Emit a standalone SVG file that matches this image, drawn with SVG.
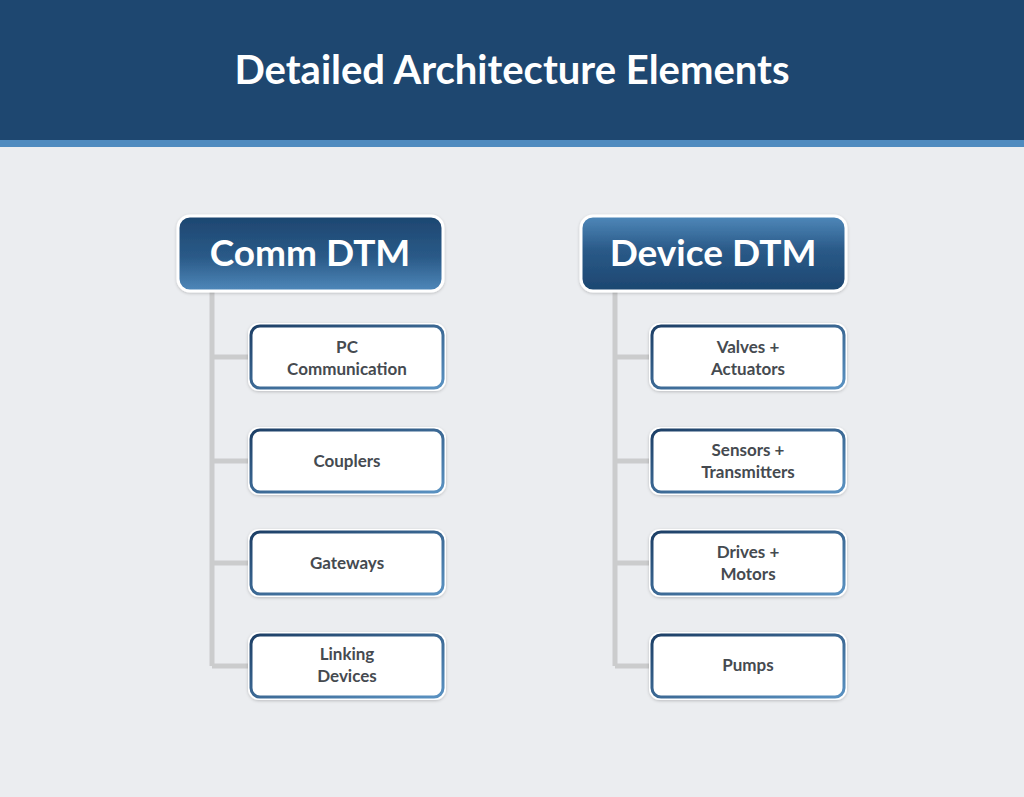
<svg xmlns="http://www.w3.org/2000/svg" width="1024" height="797" viewBox="0 0 1024 797">
<defs>
<linearGradient id="gDown" x1="0" y1="0" x2="0" y2="1"><stop offset="0" stop-color="#1d4670"/><stop offset="0.55" stop-color="#2a5a88"/><stop offset="1" stop-color="#4f88ba"/></linearGradient>
<linearGradient id="gUp" x1="0" y1="0" x2="0" y2="1"><stop offset="0" stop-color="#4f88ba"/><stop offset="0.45" stop-color="#2a5a88"/><stop offset="1" stop-color="#1d4670"/></linearGradient>
<linearGradient id="gBorder" x1="0" y1="0" x2="1" y2="1"><stop offset="0" stop-color="#1d3f66"/><stop offset="1" stop-color="#5a92c2"/></linearGradient>
<filter id="sh" x="-10%" y="-10%" width="120%" height="130%"><feDropShadow dx="0" dy="1" stdDeviation="1.5" flood-color="#000" flood-opacity="0.2"/></filter>
</defs>
<style>
.head{stroke:#fff;stroke-width:3;filter:url(#sh)}
.ht{font-family:Lato,"Open Sans",sans-serif;font-weight:bold;font-size:37px;fill:#fff;text-anchor:middle}
.child{fill:#fff;stroke:url(#gBorder);stroke-width:3}
.outer{fill:#fff;filter:url(#sh)}
.ct{font-family:Lato,"Open Sans",sans-serif;font-weight:bold;font-size:17px;fill:#454a50;text-anchor:middle}
.line{stroke:#cbcccd;stroke-width:5;fill:none}
</style>
<rect width="1024" height="797" fill="#ebedf0"/>
<rect width="1024" height="140" fill="#1e4770"/>
<rect y="140" width="1024" height="7" fill="#4f8bbf"/>
<text x="512" y="84" font-family="Lato,'Open Sans',sans-serif" font-weight="bold" font-size="40" fill="#fff" text-anchor="middle">Detailed Architecture Elements</text>
<g id="connectors">
<path class="line" d="M212 291V666M212 357H252M212 461H252M212 563H252M212 666H252"/>
<path class="line" d="M615 291V666M615 357H653M615 461H653M615 563H653M615 666H653"/>
</g>
<g id="comm-dtm"><rect class="head" x="178" y="216" width="265" height="75" rx="12" fill="url(#gDown)"/><text class="ht" x="310" y="266">Comm DTM</text></g>
<g id="device-dtm"><rect class="head" x="581" y="216" width="265" height="75" rx="12" fill="url(#gUp)"/><text class="ht" x="713" y="266">Device DTM</text></g>
<g id="pc"><rect class="outer" x="248" y="323" width="198" height="68" rx="11"/><rect class="child" x="251" y="326" width="192" height="62" rx="9"/><text class="ct" x="347" y="353">PC</text><text class="ct" x="347" y="375">Communication</text></g>
<g id="couplers"><rect class="outer" x="248" y="427" width="198" height="68" rx="11"/><rect class="child" x="251" y="430" width="192" height="62" rx="9"/><text class="ct" x="347" y="467">Couplers</text></g>
<g id="gateways"><rect class="outer" x="248" y="529" width="198" height="68" rx="11"/><rect class="child" x="251" y="532" width="192" height="62" rx="9"/><text class="ct" x="347" y="569">Gateways</text></g>
<g id="linking"><rect class="outer" x="248" y="632" width="198" height="68" rx="11"/><rect class="child" x="251" y="635" width="192" height="62" rx="9"/><text class="ct" x="347" y="660">Linking</text><text class="ct" x="347" y="682">Devices</text></g>
<g id="valves"><rect class="outer" x="649" y="323" width="198" height="68" rx="11"/><rect class="child" x="652" y="326" width="192" height="62" rx="9"/><text class="ct" x="748" y="353">Valves +</text><text class="ct" x="748" y="375">Actuators</text></g>
<g id="sensors"><rect class="outer" x="649" y="427" width="198" height="68" rx="11"/><rect class="child" x="652" y="430" width="192" height="62" rx="9"/><text class="ct" x="748" y="456">Sensors +</text><text class="ct" x="748" y="478">Transmitters</text></g>
<g id="drives"><rect class="outer" x="649" y="529" width="198" height="68" rx="11"/><rect class="child" x="652" y="532" width="192" height="62" rx="9"/><text class="ct" x="748" y="558">Drives +</text><text class="ct" x="748" y="580">Motors</text></g>
<g id="pumps"><rect class="outer" x="649" y="632" width="198" height="68" rx="11"/><rect class="child" x="652" y="635" width="192" height="62" rx="9"/><text class="ct" x="748" y="671">Pumps</text></g>
</svg>
